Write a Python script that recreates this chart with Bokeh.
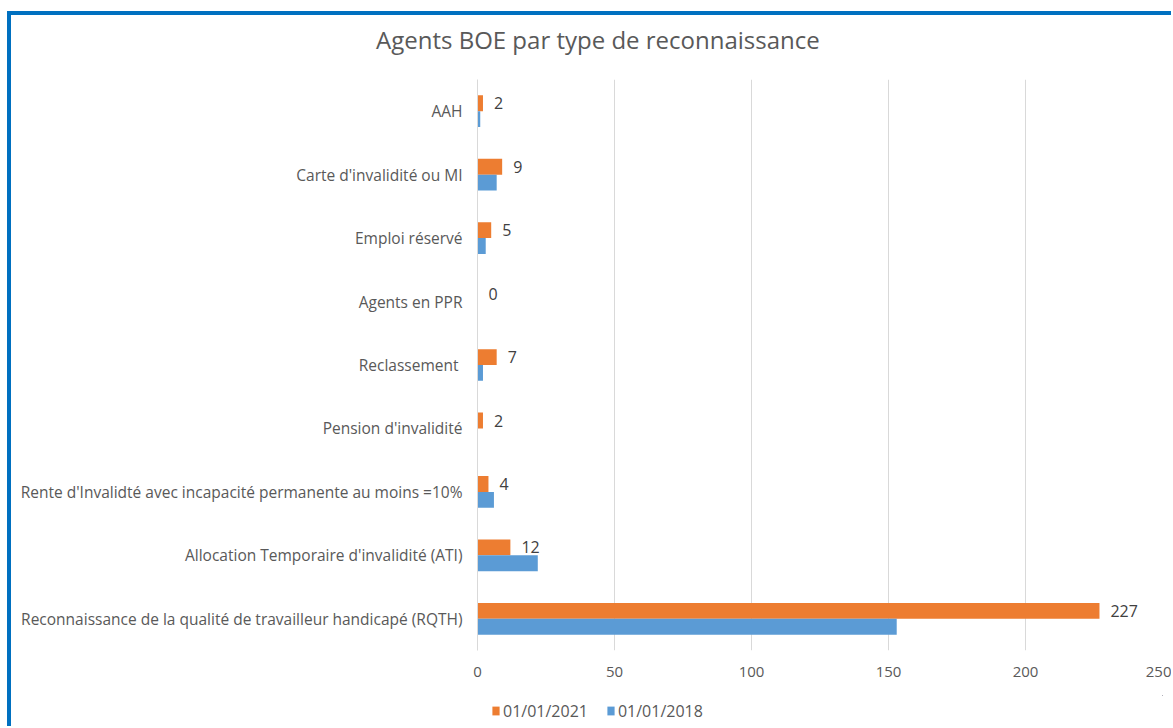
from bokeh.plotting import figure
from bokeh.layouts import column
from bokeh.models import (ColumnDataSource, FactorRange, Range1d, LabelSet, Div,
                          Legend, LegendItem, SingleIntervalTicker)
from bokeh.transform import dodge
from bokeh.core.properties import value
from bokeh.embed import file_html
from bokeh.resources import INLINE

categories = [
    "AAH",
    "Carte d'invalidité ou MI",
    "Emploi réservé",
    "Agents en PPR",
    "Reclassement ",
    "Pension d'invalidité",
    "Rente d'Invalidté avec incapacité permanente au moins =10%",
    "Allocation Temporaire d'invalidité (ATI)",
    "Reconnaissance de la qualité de travailleur handicapé (RQTH)",
]
v2021 = [2, 9, 5, 0, 7, 2, 4, 12, 227]
v2018 = [1, 7, 3, 0, 2, 0, 6, 22, 153]
series_names = ["01/01/2021", "01/01/2018"]
title_text = "Agents BOE par type de reconnaissance"

ORANGE = "#ED7D31"
BLUE = "#5B9BD5"
TXT = "#595959"
FONT = "Open Sans"
W = 1160

src = ColumnDataSource(dict(cat=categories, v2021=v2021, v2018=v2018,
                            lbl=[str(v) for v in v2021]))

# title
tf = Div(text=f'<div style="padding:11px 0 0 365px; line-height:28px; white-space:nowrap; '
              f'font-family:\'Open Sans\'; font-size:24px; color:{TXT};">{title_text}</div>',
         width=W, height=64, margin=0, styles={"overflow": "hidden", "background": "white"})

# main chart
p = figure(width=W, height=616, output_backend="svg", toolbar_location=None,
           y_range=FactorRange(*reversed(categories), range_padding=0),
           x_range=Range1d(0, 250),
           min_border_left=466, min_border_right=9, min_border_top=0,
           min_border_bottom=45)
p.outline_line_color = None
p.background_fill_color = "white"
p.border_fill_color = "white"

r1 = p.hbar(y=dodge("cat", 0.125, range=p.y_range), right="v2021", left=0, height=0.25,
            source=src, color=ORANGE, line_color=None)
r2 = p.hbar(y=dodge("cat", -0.125, range=p.y_range), right="v2018", left=0, height=0.25,
            source=src, color=BLUE, line_color=None)

labels = LabelSet(x="v2021", y=dodge("cat", 0.125, range=p.y_range), text="lbl",
                  source=src, x_offset=11, text_baseline="middle",
                  text_font=value(FONT), text_font_size="16px", text_color="#404040")
p.add_layout(labels)

p.xgrid.grid_line_color = "#d9d9d9"
p.ygrid.grid_line_color = None
p.xaxis.ticker = SingleIntervalTicker(interval=50)
p.xaxis.axis_line_color = None
p.xaxis.major_tick_line_color = None
p.xaxis.minor_tick_line_color = None
p.xaxis.major_tick_out = 0
p.xaxis.major_label_text_font = FONT
p.xaxis.major_label_text_font_size = "15px"
p.xaxis.major_label_text_color = TXT
p.xaxis.major_label_standoff = 12

p.yaxis.axis_line_color = "#d9d9d9"
p.yaxis.major_tick_line_color = None
p.yaxis.minor_tick_line_color = None
p.yaxis.major_tick_out = 0
p.yaxis.major_label_text_font = FONT
p.yaxis.major_label_text_font_size = "15.5px"
p.yaxis.major_label_text_color = TXT
p.yaxis.major_label_standoff = 15

# legend strip (its bars use the real data but lie outside its visible ranges)
lf = figure(width=W, height=31, output_backend="svg", toolbar_location=None,
            x_range=Range1d(-10, -9), y_range=Range1d(-10, -9),
            x_axis_type=None, y_axis_type=None,
            min_border_left=466, min_border_right=9, min_border_top=0, min_border_bottom=0)
lf.outline_line_color = None
lf.xgrid.grid_line_color = None
lf.ygrid.grid_line_color = None
lf.border_fill_color = "white"
lf.background_fill_color = "white"
g1 = lf.hbar(y="v2021", right="v2021", height=0.1, source=src, color=ORANGE, line_color=None)
g2 = lf.hbar(y="v2018", right="v2018", height=0.1, source=src, color=BLUE, line_color=None)
legend = Legend(items=[LegendItem(label=series_names[0], renderers=[g1]),
                       LegendItem(label=series_names[1], renderers=[g2])],
                orientation="horizontal", location="left", padding=0, margin=14,
                border_line_color=None, background_fill_alpha=0,
                glyph_width=9, glyph_height=11, label_height=20, label_standoff=3,
                spacing=18, label_text_font=FONT, label_text_font_size="16px",
                label_text_color=TXT)
lf.add_layout(legend)

layout = column(tf, p, lf, spacing=0)
layout.styles = {"border-left": "4px solid #0070C0", "border-top": "4px solid #0070C0",
                 "margin-top": "11px", "margin-left": "7px"}

open("out.html", "w").write(file_html(layout, INLINE))
